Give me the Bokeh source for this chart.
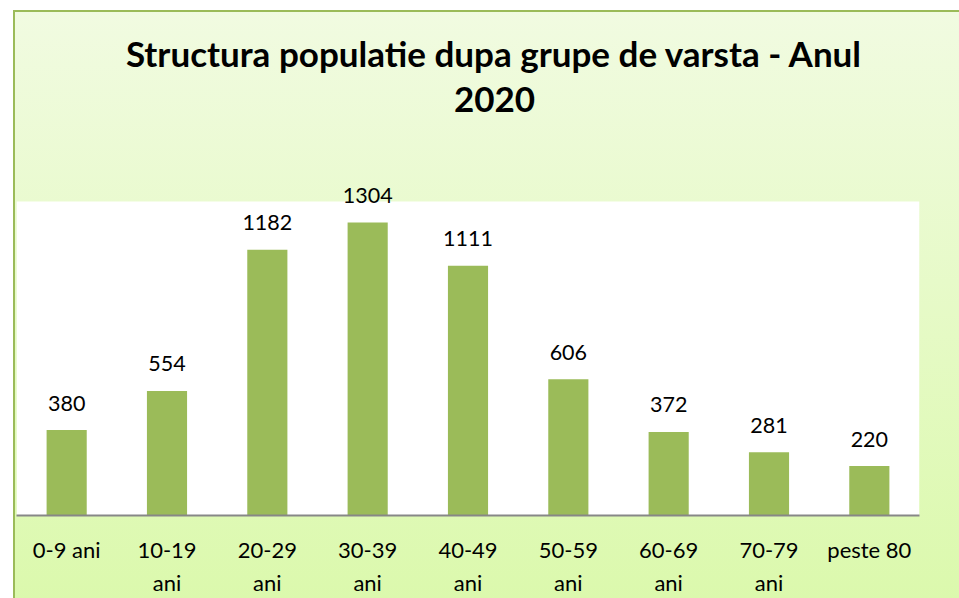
from bokeh.plotting import figure
from bokeh.models import (ColumnDataSource, Range1d, FactorRange, CategoricalAxis, Label,
                          BoxAnnotation, CustomJSTickFormatter)
from bokeh.core.properties import value
from bokeh.embed import file_html
from bokeh.resources import INLINE

categories = ["0-9 ani", "10-19 ani", "20-29 ani", "30-39 ani", "40-49 ani",
              "50-59 ani", "60-69 ani", "70-79 ani", "peste 80"]
tick_line1 = ["0-9 ani", "10-19", "20-29", "30-39", "40-49",
              "50-59", "60-69", "70-79", "peste 80"]
tick_line2 = ["", "ani", "ani", "ani", "ani", "ani", "ani", "ani", ""]
values = [380, 554, 1182, 1304, 1111, 606, 372, 281, 220]
title_line1 = "Structura populatie dupa grupe de varsta - Anul"
title_line2 = "2020"
plot_area_max = 1397

FONT = "Lato"
src = ColumnDataSource(dict(cat=categories, val=values, lbl=[str(v) for v in values]))

FRAME_H = 494
PLOT_H = 314
p = figure(frame_width=903, frame_height=FRAME_H, output_backend="svg", toolbar_location=None,
           x_range=FactorRange(*categories),
           y_range=Range1d(0, plot_area_max * FRAME_H / PLOT_H),
           min_border_left=16, min_border_right=40, min_border_top=21, min_border_bottom=83)
p.styles = {
    "background": ("linear-gradient(#9BBB59, #9BBB59) 13px 10px / 2px 100% no-repeat, "
                   "linear-gradient(#9BBB59, #9BBB59) 13px 10px / 100% 2px no-repeat, "
                   "linear-gradient(#F1FBE1, #DBF9AC) 13px 10px / 100% 100% no-repeat"),
}
p.border_fill_alpha = 0
p.background_fill_alpha = 0
p.outline_line_color = None

p.add_layout(BoxAnnotation(bottom=0, top=plot_area_max, fill_color="white", fill_alpha=1,
                           line_color=None, level="underlay"))

p.vbar(x="cat", top="val", width=0.4, source=src, fill_color="#9BBB59", line_color=None)
p.text(x="cat", y="val", text="lbl", source=src, text_align="center", text_baseline="alphabetic",
       y_offset=-27, text_font=value(FONT), text_font_size="21.5px", text_color="black")

p.yaxis.visible = False
p.xgrid.visible = False
p.ygrid.visible = False

code = "const i = cats.indexOf(tick); return i >= 0 ? labs[i] : '';"

ax1 = p.xaxis[0]
ax1.axis_line_color = "#878787"
ax1.axis_line_width = 2
ax1.major_tick_line_color = None
ax1.minor_tick_line_color = None
ax1.formatter = CustomJSTickFormatter(args=dict(cats=categories, labs=tick_line1), code=code)
ax1.major_label_text_font = FONT
ax1.major_label_text_font_size = "22px"
ax1.major_label_text_color = "black"
ax1.major_label_standoff = 14

ax2 = CategoricalAxis()
ax2.axis_line_color = None
ax2.major_tick_line_color = None
ax2.minor_tick_line_color = None
ax2.formatter = CustomJSTickFormatter(args=dict(cats=categories, labs=tick_line2), code=code)
ax2.major_label_text_font = FONT
ax2.major_label_text_font_size = "22px"
ax2.major_label_text_color = "black"
ax2.major_label_standoff = -3
p.add_layout(ax2, "below")

for txt, yy in [(title_line1, 463), (title_line2, 416)]:
    p.add_layout(Label(x=478, y=yy, x_units="screen", y_units="screen", text=txt,
                       text_align="center", text_baseline="alphabetic",
                       text_font=FONT, text_font_size="35px", text_font_style="bold",
                       text_color="black"))

open("out.html", "w").write(file_html(p, INLINE))
